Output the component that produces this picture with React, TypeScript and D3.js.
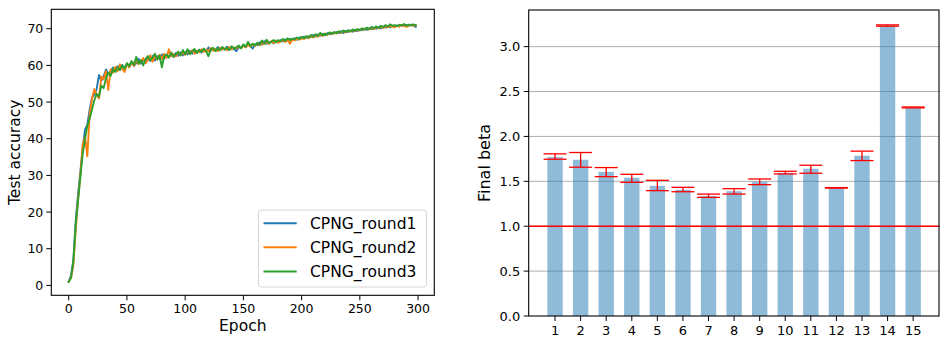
import React from "react";
import * as d3 from "d3";

// ---------- Left chart data (test accuracy sampled every 2 epochs) ----------
const epochStep = 2;
const seriesNames = ["CPNG_round1", "CPNG_round2", "CPNG_round3"];
const seriesColors = ["#1f77b4", "#ff7f0e", "#2ca02c"];

const round1 = [
  1.0, 2.8, 7.0, 17.5, 24.8, 31.0, 37.5, 42.5, 43.8, 48.0,
  51.2, 52.0, 53.6, 57.4, 55.8, 57.0, 58.9, 57.6, 58.3, 59.4,
  58.6, 59.8, 58.9, 60.1, 59.2, 60.4, 59.7, 61.0, 59.9, 60.6,
  61.8, 60.5, 61.7, 60.9, 62.4, 61.2, 62.6, 61.3, 62.5, 61.8,
  63.0, 61.9, 62.8, 62.2, 63.3, 62.3, 63.4, 62.6, 63.5, 62.7,
  63.6, 63.0, 64.0, 63.2, 63.9, 63.4, 64.3, 63.5, 64.5, 63.8,
  64.9, 64.0, 64.6, 64.1, 65.0, 64.2, 64.9, 64.3, 65.1, 64.5,
  64.9, 64.4, 63.9, 65.0, 64.8, 65.6, 65.0, 65.9, 65.2, 64.6,
  65.8, 65.5, 66.3, 65.7, 66.6, 65.9, 66.2, 66.5, 66.0, 66.8,
  66.3, 66.9, 66.5, 67.1, 66.7, 67.2, 66.9, 67.4, 67.0, 67.6,
  67.3, 67.8, 67.5, 67.9, 67.7, 68.3, 67.9, 68.4, 68.1, 68.6,
  68.2, 68.8, 68.5, 68.9, 68.7, 69.1, 68.8, 69.3, 68.8, 69.4,
  69.1, 69.5, 69.2, 69.7, 69.4, 69.8, 69.6, 70.0, 69.7, 70.1,
  69.9, 70.3, 70.0, 70.4, 70.1, 70.6, 70.3, 70.7, 70.4, 70.8,
  70.5, 70.9, 70.6, 71.0, 70.7, 71.0, 70.8, 71.1, 70.9, 70.5,
];
const round2 = [
  1.0, 2.2, 5.5, 15.0, 23.5, 30.0, 38.5, 40.5, 35.2, 46.8,
  50.9, 53.5, 52.0, 51.0, 57.0, 56.2, 58.4, 53.3, 58.9, 58.0,
  59.6, 58.4, 60.3, 59.0, 58.2, 60.5, 59.4, 60.9, 59.8, 61.4,
  60.3, 61.2, 62.0, 60.6, 61.5, 62.8, 61.0, 62.4, 61.6, 62.9,
  61.7, 63.2, 62.0, 64.4, 62.5, 63.1, 62.4, 63.6, 62.8, 63.4,
  62.9, 63.8, 63.3, 64.1, 63.2, 64.0, 63.6, 64.4, 63.7, 64.3,
  63.9, 64.7, 64.0, 64.5, 63.9, 64.8, 64.3, 64.6, 64.1, 65.0,
  64.4, 64.9, 64.6, 65.3, 64.7, 65.4, 64.9, 65.6, 65.1, 65.9,
  65.3, 66.0, 65.5, 66.1, 65.8, 66.4, 65.9, 66.6, 66.1, 66.7,
  66.2, 66.5, 66.9, 66.4, 67.0, 65.9, 67.1, 66.8, 67.3, 67.0,
  67.5, 67.2, 67.9, 67.4, 68.0, 67.6, 68.2, 67.8, 68.5, 68.0,
  68.7, 68.3, 68.9, 68.5, 69.0, 68.7, 69.2, 68.9, 69.4, 69.0,
  69.5, 69.2, 69.7, 69.3, 69.8, 69.5, 70.0, 69.7, 70.2, 69.8,
  70.3, 69.9, 70.5, 70.1, 70.6, 70.2, 70.7, 70.4, 70.9, 70.5,
  70.4, 70.8, 70.6, 71.0, 70.7, 70.5, 70.9, 71.0, 70.8, 71.0,
];
const round3 = [
  1.0, 2.0, 6.5, 16.5, 23.0, 29.5, 35.8, 40.0, 43.5, 45.5,
  48.0, 50.5, 52.2, 51.5, 54.5, 53.8, 56.5, 58.0, 57.1, 59.0,
  58.2, 59.5, 58.7, 60.0, 59.1, 60.6, 59.8, 61.2, 60.1, 62.3,
  60.5, 61.4, 60.0, 61.8, 62.5, 61.4, 62.1, 63.2, 61.6, 62.7,
  59.5, 62.5, 63.0, 62.1, 63.5, 62.4, 63.0, 63.7, 62.7, 64.2,
  63.0, 64.4, 63.1, 63.8, 64.5, 63.4, 64.2, 63.7, 64.6, 63.9,
  62.5, 64.4, 64.8, 63.9, 64.7, 64.1, 65.0, 64.4, 64.8, 64.2,
  65.2, 64.6, 64.9, 65.4, 64.6, 65.7, 65.1, 66.4, 65.3, 65.9,
  65.4, 66.2, 65.6, 66.8, 65.9, 67.0, 66.1, 66.4, 66.9, 66.3,
  66.9, 66.6, 67.2, 66.7, 67.4, 66.9, 67.3, 67.1, 67.6, 67.2,
  67.8, 67.4, 68.0, 67.6, 68.3, 67.8, 68.5, 68.0, 68.9, 68.2,
  68.6, 68.4, 69.0, 68.6, 69.1, 68.8, 69.3, 69.0, 69.5, 69.1,
  69.6, 69.3, 69.8, 69.4, 69.9, 69.6, 70.1, 69.8, 70.3, 69.9,
  70.5, 70.1, 70.6, 70.2, 70.8, 70.4, 71.0, 70.6, 71.2, 70.8,
  71.0, 70.7, 71.1, 70.9, 71.3, 70.8, 71.1, 70.9, 71.2, 71.0,
];
const leftXTicks = [0, 50, 100, 150, 200, 250, 300];
const leftYTicks = [0, 10, 20, 30, 40, 50, 60, 70];

// ---------- Right chart data ----------
const layers = ["1", "2", "3", "4", "5", "6", "7", "8", "9", "10", "11", "12", "13", "14", "15"];
const betaMean = [1.77, 1.74, 1.605, 1.54, 1.45, 1.405, 1.335, 1.39, 1.495, 1.595, 1.64, 1.425, 1.785, 3.232, 2.322];
const betaLow = [1.746, 1.657, 1.552, 1.489, 1.396, 1.384, 1.321, 1.358, 1.463, 1.582, 1.59, 1.425, 1.731, 3.228, 2.318];
const betaHigh = [1.806, 1.821, 1.653, 1.578, 1.511, 1.433, 1.358, 1.418, 1.526, 1.612, 1.679, 1.43, 1.836, 3.242, 2.328];
const rightYTicks = [0, 0.5, 1.0, 1.5, 2.0, 2.5, 3.0];
const referenceBeta = 1.0;

const FONT = "DejaVu Sans, sans-serif";

export default function App() {
  // Left scales
  const lx = d3.scaleLinear().domain([-14.95, 313.95]).range([51.3, 434.3]);
  const ly = d3.scaleLinear().domain([-2.7, 75.3]).range([295.3, 9.3]);
  const allSeries = [round1, round2, round3];
  const line = d3
    .line<number>()
    .x((_, i) => lx(i * epochStep))
    .y((d) => ly(d));

  // Right scales
  const rx = d3.scaleLinear().domain([-0.03, 16.03]).range([528.7, 939.5]);
  const ry = d3.scaleLinear().domain([0, 3.408]).range([316, 10]);
  const barW = rx(0.6) - rx(0);
  const capHalf = 11.5;

  const [lx0, lx1] = lx.range();
  const [ly0, ly1] = ly.range();
  const [rx0, rx1] = rx.range();
  const [ry0, ry1] = ry.range();

  const legendX = 258.5;
  const legendY = 210;
  const legendRowY = [223.3, 247.3, 271.5];

  return (
    <svg
      width={940}
      height={337}
      style={{ position: "absolute", left: 0, top: 0, background: "#fff" }}
      fontFamily={FONT}
    >
      <rect x={0} y={0} width={940} height={337} fill="#fff" />
      {/* ---------------- LEFT ---------------- */}
      <g>
        <defs>
          <clipPath id="lclip">
            <rect x={lx0} y={ly1} width={lx1 - lx0} height={ly0 - ly1} />
          </clipPath>
        </defs>
        <g clipPath="url(#lclip)">
          {allSeries.map((s, k) => (
            <path
              key={k}
              d={line(s) || ""}
              fill="none"
              stroke={seriesColors[k]}
              strokeWidth={1.9}
              strokeLinejoin="round"
              strokeLinecap="square"
            />
          ))}
        </g>
        <rect x={lx0} y={ly1} width={lx1 - lx0} height={ly0 - ly1} fill="none" stroke="#000" strokeWidth={1.1} />
        {leftXTicks.map((t) => (
          <g key={t}>
            <line x1={lx(t)} x2={lx(t)} y1={ly0} y2={ly0 + 5} stroke="#000" strokeWidth={1} />
            <text x={lx(t)} y={313} textAnchor="middle" fontSize={12.5} fill="#000">
              {t}
            </text>
          </g>
        ))}
        {leftYTicks.map((t) => (
          <g key={t}>
            <line x1={lx0 - 5} x2={lx0} y1={ly(t)} y2={ly(t)} stroke="#000" strokeWidth={1} />
            <text x={lx0 - 8} y={ly(t)} dy="0.36em" textAnchor="end" fontSize={12.5} fill="#000">
              {t}
            </text>
          </g>
        ))}
        <text x={(lx0 + lx1) / 2} y={331} textAnchor="middle" fontSize={15.5} fill="#000">
          Epoch
        </text>
        <text
          transform={`translate(19.5, ${(ly0 + ly1) / 2}) rotate(-90)`}
          textAnchor="middle"
          fontSize={15.5}
          fill="#000"
        >
          Test accuracy
        </text>
        {/* legend */}
        <rect
          x={legendX}
          y={legendY}
          width={168}
          height={77}
          rx={3}
          fill="#fff"
          fillOpacity={0.8}
          stroke="#d6d6d6"
          strokeWidth={1}
        />
        {seriesNames.map((n, k) => (
          <g key={n}>
            <line x1={263.5} x2={296.7} y1={legendRowY[k]} y2={legendRowY[k]} stroke={seriesColors[k]} strokeWidth={1.9} />
            <text x={310} y={legendRowY[k]} dy="0.36em" fontSize={15.5} fill="#000">
              {n}
            </text>
          </g>
        ))}
      </g>

      {/* ---------------- RIGHT ---------------- */}
      <g>
        {rightYTicks
          .filter((t) => t > 0)
          .map((t) => (
            <line key={t} x1={rx0} x2={rx1} y1={ry(t)} y2={ry(t)} stroke="#b0b0b0" strokeWidth={1} />
          ))}
        {betaMean.map((v, i) => (
          <rect
            key={i}
            x={rx(i + 1) - barW / 2}
            y={ry(v)}
            width={barW}
            height={ry(0) - ry(v)}
            fill="#1f77b4"
            fillOpacity={0.5}
          />
        ))}
        <line
          x1={rx0}
          x2={rx1}
          y1={ry(referenceBeta)}
          y2={ry(referenceBeta)}
          stroke="#ff0000"
          strokeWidth={1.5}
        />
        {betaMean.map((_, i) => {
          const cx = rx(i + 1);
          return (
            <g key={i} stroke="#ff0000" strokeWidth={1.3}>
              <line x1={cx} x2={cx} y1={ry(betaLow[i])} y2={ry(betaHigh[i])} />
              <line x1={cx - capHalf} x2={cx + capHalf} y1={ry(betaLow[i])} y2={ry(betaLow[i])} />
              <line x1={cx - capHalf} x2={cx + capHalf} y1={ry(betaHigh[i])} y2={ry(betaHigh[i])} />
            </g>
          );
        })}
        <rect x={rx0} y={ry1} width={rx1 - rx0 - 0.5} height={ry0 - ry1} fill="none" stroke="#000" strokeWidth={1.1} />
        {layers.map((l, i) => (
          <g key={l}>
            <line x1={rx(i + 1)} x2={rx(i + 1)} y1={ry0} y2={ry0 + 5} stroke="#000" strokeWidth={1} />
            <text x={rx(i + 1)} y={334.5} textAnchor="middle" fontSize={13} fill="#000">
              {l}
            </text>
          </g>
        ))}
        {rightYTicks.map((t) => (
          <g key={t}>
            <line x1={rx0 - 5} x2={rx0} y1={ry(t)} y2={ry(t)} stroke="#000" strokeWidth={1} />
            <text x={rx0 - 8.5} y={ry(t)} dy="0.36em" textAnchor="end" fontSize={13} fill="#000">
              {d3.format(".1f")(t)}
            </text>
          </g>
        ))}
        <text
          transform={`translate(490, ${(ry0 + ry1) / 2}) rotate(-90)`}
          textAnchor="middle"
          fontSize={16}
          fill="#000"
        >
          Final beta
        </text>
      </g>
    </svg>
  );
}
